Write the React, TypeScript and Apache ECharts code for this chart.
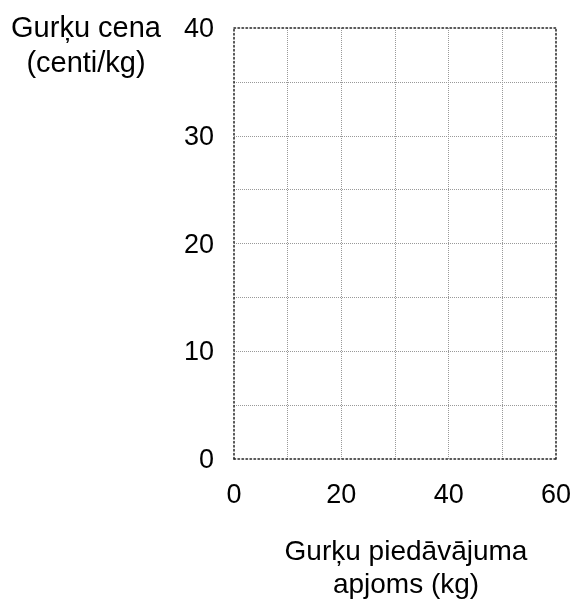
import React, { useEffect, useRef } from "react";
import * as echarts from "echarts";

const xTicks = [0, 10, 20, 30, 40, 50, 60];
const yTicks = [0, 5, 10, 15, 20, 25, 30, 35, 40];
const xAxisTitle = ["Gurķu piedāvājuma", "apjoms (kg)"];
const yAxisTitle = ["Gurķu cena", "(centi/kg)"];

export default function App() {
  const ref = useRef<HTMLDivElement>(null);
  useEffect(() => {
    if (!ref.current) return;
    const chart = echarts.init(ref.current, null, { renderer: "svg" });
    const font = "'Liberation Sans', Arial, sans-serif";
    const outer = { show: true, onZero: false, lineStyle: { color: "#222", width: 1.5, type: [1.5, 2.5] as any } };
    const inner = { show: true, lineStyle: { color: "#999", width: 1, type: [1, 1] as any } };
    chart.setOption({
      animation: false,
      grid: { left: 234, right: 20, top: 28, bottom: 147, containLabel: false },
      xAxis: [
        {
          type: "value",
          min: xTicks[0],
          max: xTicks[xTicks.length - 1],
          interval: 10,
          axisLine: outer,
          axisTick: { show: false },
          splitLine: { ...inner, showMinLine: false, showMaxLine: false },
          axisLabel: {
            fontSize: 27,
            fontFamily: font,
            color: "#000",
            margin: 21,
            formatter: (v: number) => (v % 20 === 0 ? String(v) : ""),
          },
        },
        {
          type: "value",
          position: "top",
          min: xTicks[0],
          max: xTicks[xTicks.length - 1],
          interval: 10,
          axisLine: outer,
          axisTick: { show: false },
          axisLabel: { show: false },
          splitLine: { show: false },
        },
      ],
      yAxis: [
        {
          type: "value",
          min: yTicks[0],
          max: yTicks[yTicks.length - 1],
          interval: 5,
          axisLine: outer,
          axisTick: { show: false },
          splitLine: { ...inner, showMinLine: false, showMaxLine: false },
          axisLabel: {
            fontSize: 27,
            fontFamily: font,
            color: "#000",
            margin: 20,
            formatter: (v: number) => (v % 10 === 0 ? String(v) : ""),
          },
        },
        {
          type: "value",
          position: "right",
          min: yTicks[0],
          max: yTicks[yTicks.length - 1],
          interval: 5,
          axisLine: outer,
          axisTick: { show: false },
          axisLabel: { show: false },
          splitLine: { show: false },
        },
      ],
      graphic: [
        {
          type: "text",
          x: 86,
          y: 44,
          style: {
            text: yAxisTitle.join("\n"),
            font: `29px ${font}`,
            fill: "#000",
            align: "center",
            verticalAlign: "middle",
            lineHeight: 35,
          },
        },
        {
          type: "text",
          x: 406,
          y: 567,
          style: {
            text: xAxisTitle.join("\n"),
            font: `28px ${font}`,
            fill: "#000",
            align: "center",
            verticalAlign: "middle",
            lineHeight: 33,
          },
        },
      ],
      series: [
        { type: "line", data: [], xAxisIndex: 0, yAxisIndex: 0 },
      ],
    });
    return () => chart.dispose();
  }, []);
  return (
    <div
      ref={ref}
      style={{ position: "fixed", left: 0, top: 0, width: 576, height: 606 }}
    />
  );
}
